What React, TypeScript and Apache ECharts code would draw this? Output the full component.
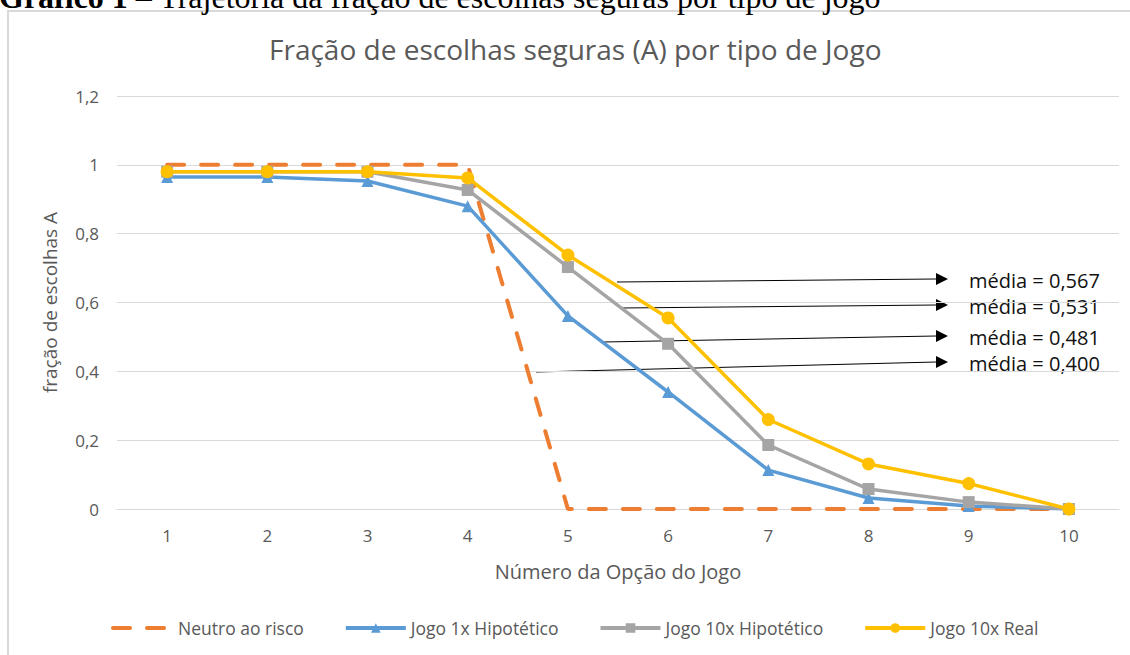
import React, { useEffect, useRef } from "react";
import * as echarts from "echarts";

const categories = ["1", "2", "3", "4", "5", "6", "7", "8", "9", "10"];
const neutroAoRisco = [1, 1, 1, 1, 0, 0, 0, 0, 0, 0];
const jogo1xHipotetico = [0.965, 0.965, 0.953, 0.88, 0.561, 0.34, 0.113, 0.032, 0.009, 0];
const jogo10xHipotetico = [0.98, 0.98, 0.98, 0.927, 0.703, 0.48, 0.186, 0.058, 0.02, 0];
const jogo10xReal = [0.98, 0.98, 0.98, 0.962, 0.738, 0.555, 0.26, 0.131, 0.074, 0];
const seriesNames = ["Neutro ao risco", "Jogo 1x Hipotético", "Jogo 10x Hipotético", "Jogo 10x Real"];
const mediaLabels = ["média = 0,567", "média = 0,531", "média = 0,481", "média = 0,400"];

const FONT = "'Open Sans', 'Noto Sans', sans-serif";
const TXT = "#595959";

export default function App() {
  const ref = useRef<HTMLDivElement>(null);
  useEffect(() => {
    if (!ref.current) return;
    const chart = echarts.init(ref.current, undefined, { renderer: "svg" });

    // annotation arrows: [x1, y1, x2, y2]
    const arrows = [
      [617, 282, 936, 279],
      [622, 308, 936, 305],
      [603, 342, 936, 336],
      [536, 372, 936, 362],
    ];
    const graphics: any[] = [
      {
        type: "rect",
        shape: { x: 8, y: 11, width: 1200, height: 700 },
        style: { fill: "none", stroke: "#d9d9d9", lineWidth: 2 },
        z: -10,
        silent: true,
      },
      {
        type: "text",
        x: -1,
        y: 13,
        style: {
          text: "{b|Gráfico 1} – Trajetória da fração de escolhas seguras por tipo de jogo",
          rich: {
            b: { fontFamily: "'Liberation Serif', serif", fontSize: 32, fontWeight: "bold", fill: "#000" },
          },
          fontFamily: "'Liberation Serif', serif",
          fontSize: 32,
          fill: "#000",
          verticalAlign: "bottom",
        },
        silent: true,
      },
    ];
    arrows.forEach((a, i) => {
      graphics.push({
        type: "line",
        shape: { x1: a[0], y1: a[1], x2: a[2], y2: a[3] },
        style: { stroke: "#000", lineWidth: 1 },
        silent: true,
      });
      graphics.push({
        type: "polygon",
        shape: { points: [[a[2], a[3] - 6], [a[2] + 12, a[3]], [a[2], a[3] + 6]] },
        style: { fill: "#000" },
        silent: true,
      });
      graphics.push({
        type: "text",
        x: 969,
        y: a[3] + 1,
        style: {
          text: mediaLabels[i],
          fontFamily: FONT,
          fontSize: 20,
          fill: "#111",
          verticalAlign: "middle",
        },
        silent: true,
      });
    });

    const lineSeries = (name: string, data: number[], color: string, symbol: string, size: number) => ({
      name,
      type: "line",
      data,
      symbol,
      symbolSize: size,
      showSymbol: true,
      lineStyle: { color, width: 3.5 },
      itemStyle: { color },
      z: 3,
    });

    chart.setOption({
      animation: false,
      title: {
        text: "Fração de escolhas seguras (A) por tipo de Jogo",
        left: 264,
        top: 30,
        textStyle: { fontFamily: FONT, fontSize: 28, fontWeight: "normal", color: TXT },
      },
      grid: { left: 117, right: 11, top: 96, bottom: 146, containLabel: false },
      legend: {
        bottom: 13,
        left: 106,
        itemWidth: 60,
        itemHeight: 12,
        itemGap: 40,
        lineStyle: { width: 4 },
        textStyle: { fontFamily: FONT, fontSize: 17.5, color: TXT },
        data: [
          { name: seriesNames[0], itemStyle: { opacity: 0 } },
          seriesNames[1],
          seriesNames[2],
          seriesNames[3],
        ],
      },
      xAxis: {
        type: "category",
        data: categories,
        boundaryGap: true,
        axisLine: { lineStyle: { color: "#d9d9d9", width: 1 } },
        axisTick: { show: false },
        axisLabel: { fontFamily: FONT, fontSize: 17, color: TXT, margin: 18 },
        name: "Número da Opção do Jogo",
        nameLocation: "middle",
        nameGap: 52,
        nameTextStyle: { fontFamily: FONT, fontSize: 20, color: TXT },
      },
      yAxis: {
        type: "value",
        min: 0,
        max: 1.2,
        interval: 0.2,
        axisLine: { show: false },
        axisTick: { show: false },
        splitLine: { lineStyle: { color: "#d9d9d9", width: 1 } },
        axisLabel: {
          fontFamily: FONT,
          fontSize: 17,
          color: TXT,
          margin: 18,
          formatter: (v: number) => String(Math.round(v * 10) / 10).replace(".", ","),
        },
        name: "fração de escolhas A",
        nameLocation: "middle",
        nameGap: 58,
        nameTextStyle: { fontFamily: FONT, fontSize: 19, color: TXT },
      },
      series: [
        {
          name: seriesNames[0],
          type: "line",
          data: neutroAoRisco,
          symbol: "circle",
          showSymbol: false,
          lineStyle: { color: "#ED7D31", width: 4, type: [17, 17], cap: "round" },
          itemStyle: { color: "#ED7D31" },
          z: 2,
        },
        lineSeries(seriesNames[1], jogo1xHipotetico, "#5B9BD5", "triangle", 12),
        lineSeries(seriesNames[2], jogo10xHipotetico, "#A5A5A5", "rect", 12),
        lineSeries(seriesNames[3], jogo10xReal, "#FFC000", "circle", 13),
      ],
      graphic: graphics,
    });
    return () => chart.dispose();
  }, []);
  return (
    <div
      ref={ref}
      style={{ position: "fixed", left: 0, top: 0, width: 1130, height: 655, background: "#fff" }}
    />
  );
}
